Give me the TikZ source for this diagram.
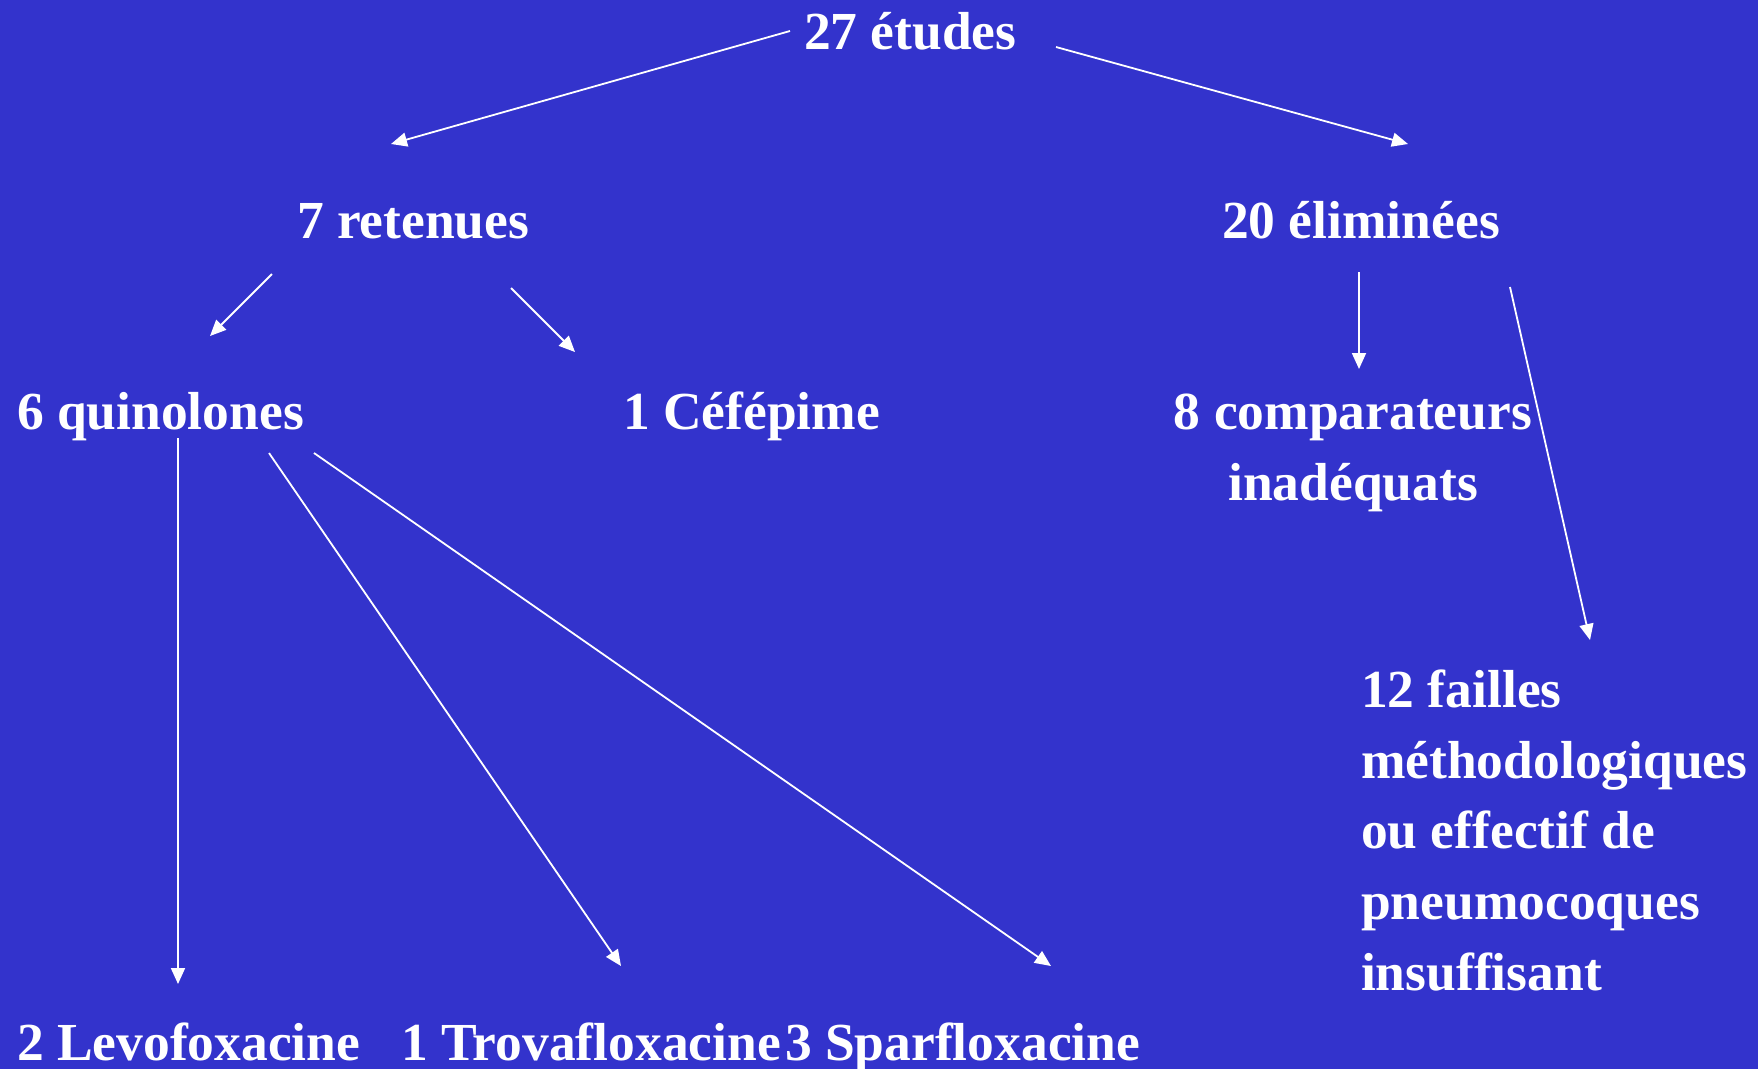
\documentclass[tikz,border=0pt]{standalone}
\usepackage{fontspec}
\setmainfont{Liberation Serif}
\usetikzlibrary{arrows.meta}
\definecolor{bg}{RGB}{51,51,204}
\begin{document}
\begin{tikzpicture}[x=1pt,y=-1pt,
  lbl/.style={text=white,inner sep=0pt,outer sep=0pt,font=\fontsize{53.5}{70.6}\selectfont\bfseries},
  arr/.style={draw=white,line width=1.8pt,-{Triangle[length=16pt,width=14pt]}}]
\path[fill=bg,use as bounding box] (0,0) rectangle (1758,1069);
% nodes
\node[lbl,anchor=base west] (etudes) at (804,49) {27 études};
\node[lbl,anchor=base west] (retenues) at (297,238) {7 retenues};
\node[lbl,anchor=base west] (elim) at (1222,238) {20 éliminées};
\node[lbl,anchor=base west] (quino) at (17,429) {6 quinolones};
\node[lbl,anchor=base west] (cefe) at (623,429) {1 Céfépime};
\node[lbl,anchor=base,align=center] (compar) at (1353,500) {8 comparateurs\\inadéquats};
\node[lbl,anchor=base west,align=left] (failles) at (1361,990) {12 failles\\méthodologiques\\ou effectif de\\pneumocoques\\insuffisant};
\node[lbl,anchor=base west] (levo) at (17,1060) {2 Levofoxacine};
\node[lbl,anchor=base west] (trova) at (401,1060) {1 Trovafloxacine};
\node[lbl,anchor=base west] (sparf) at (785,1060) {3 Sparfloxacine};
% connector end points
\coordinate (a1s) at (790,31);  \coordinate (a1e) at (391,144);
\coordinate (a2s) at (1056,47); \coordinate (a2e) at (1408,144);
\coordinate (a3s) at (272,274); \coordinate (a3e) at (210,336);
\coordinate (a4s) at (511,288); \coordinate (a4e) at (575,352);
\coordinate (a5s) at (1359,272); \coordinate (a5e) at (1359,369);
\coordinate (a6s) at (1510,287); \coordinate (a6e) at (1590,640);
\coordinate (a7s) at (178,438); \coordinate (a7e) at (178,984);
\coordinate (a8s) at (269,453); \coordinate (a8e) at (621,966);
\coordinate (a9s) at (314,453); \coordinate (a9e) at (1051,966);
% connectors
\draw[arr] (a1s) -- (a1e);
\draw[arr] (a2s) -- (a2e);
\draw[arr] (a3s) -- (a3e);
\draw[arr] (a4s) -- (a4e);
\draw[arr] (a5s) -- (a5e);
\draw[arr] (a6s) -- (a6e);
\draw[arr] (a7s) -- (a7e);
\draw[arr] (a8s) -- (a8e);
\draw[arr] (a9s) -- (a9e);
\end{tikzpicture}
\end{document}
